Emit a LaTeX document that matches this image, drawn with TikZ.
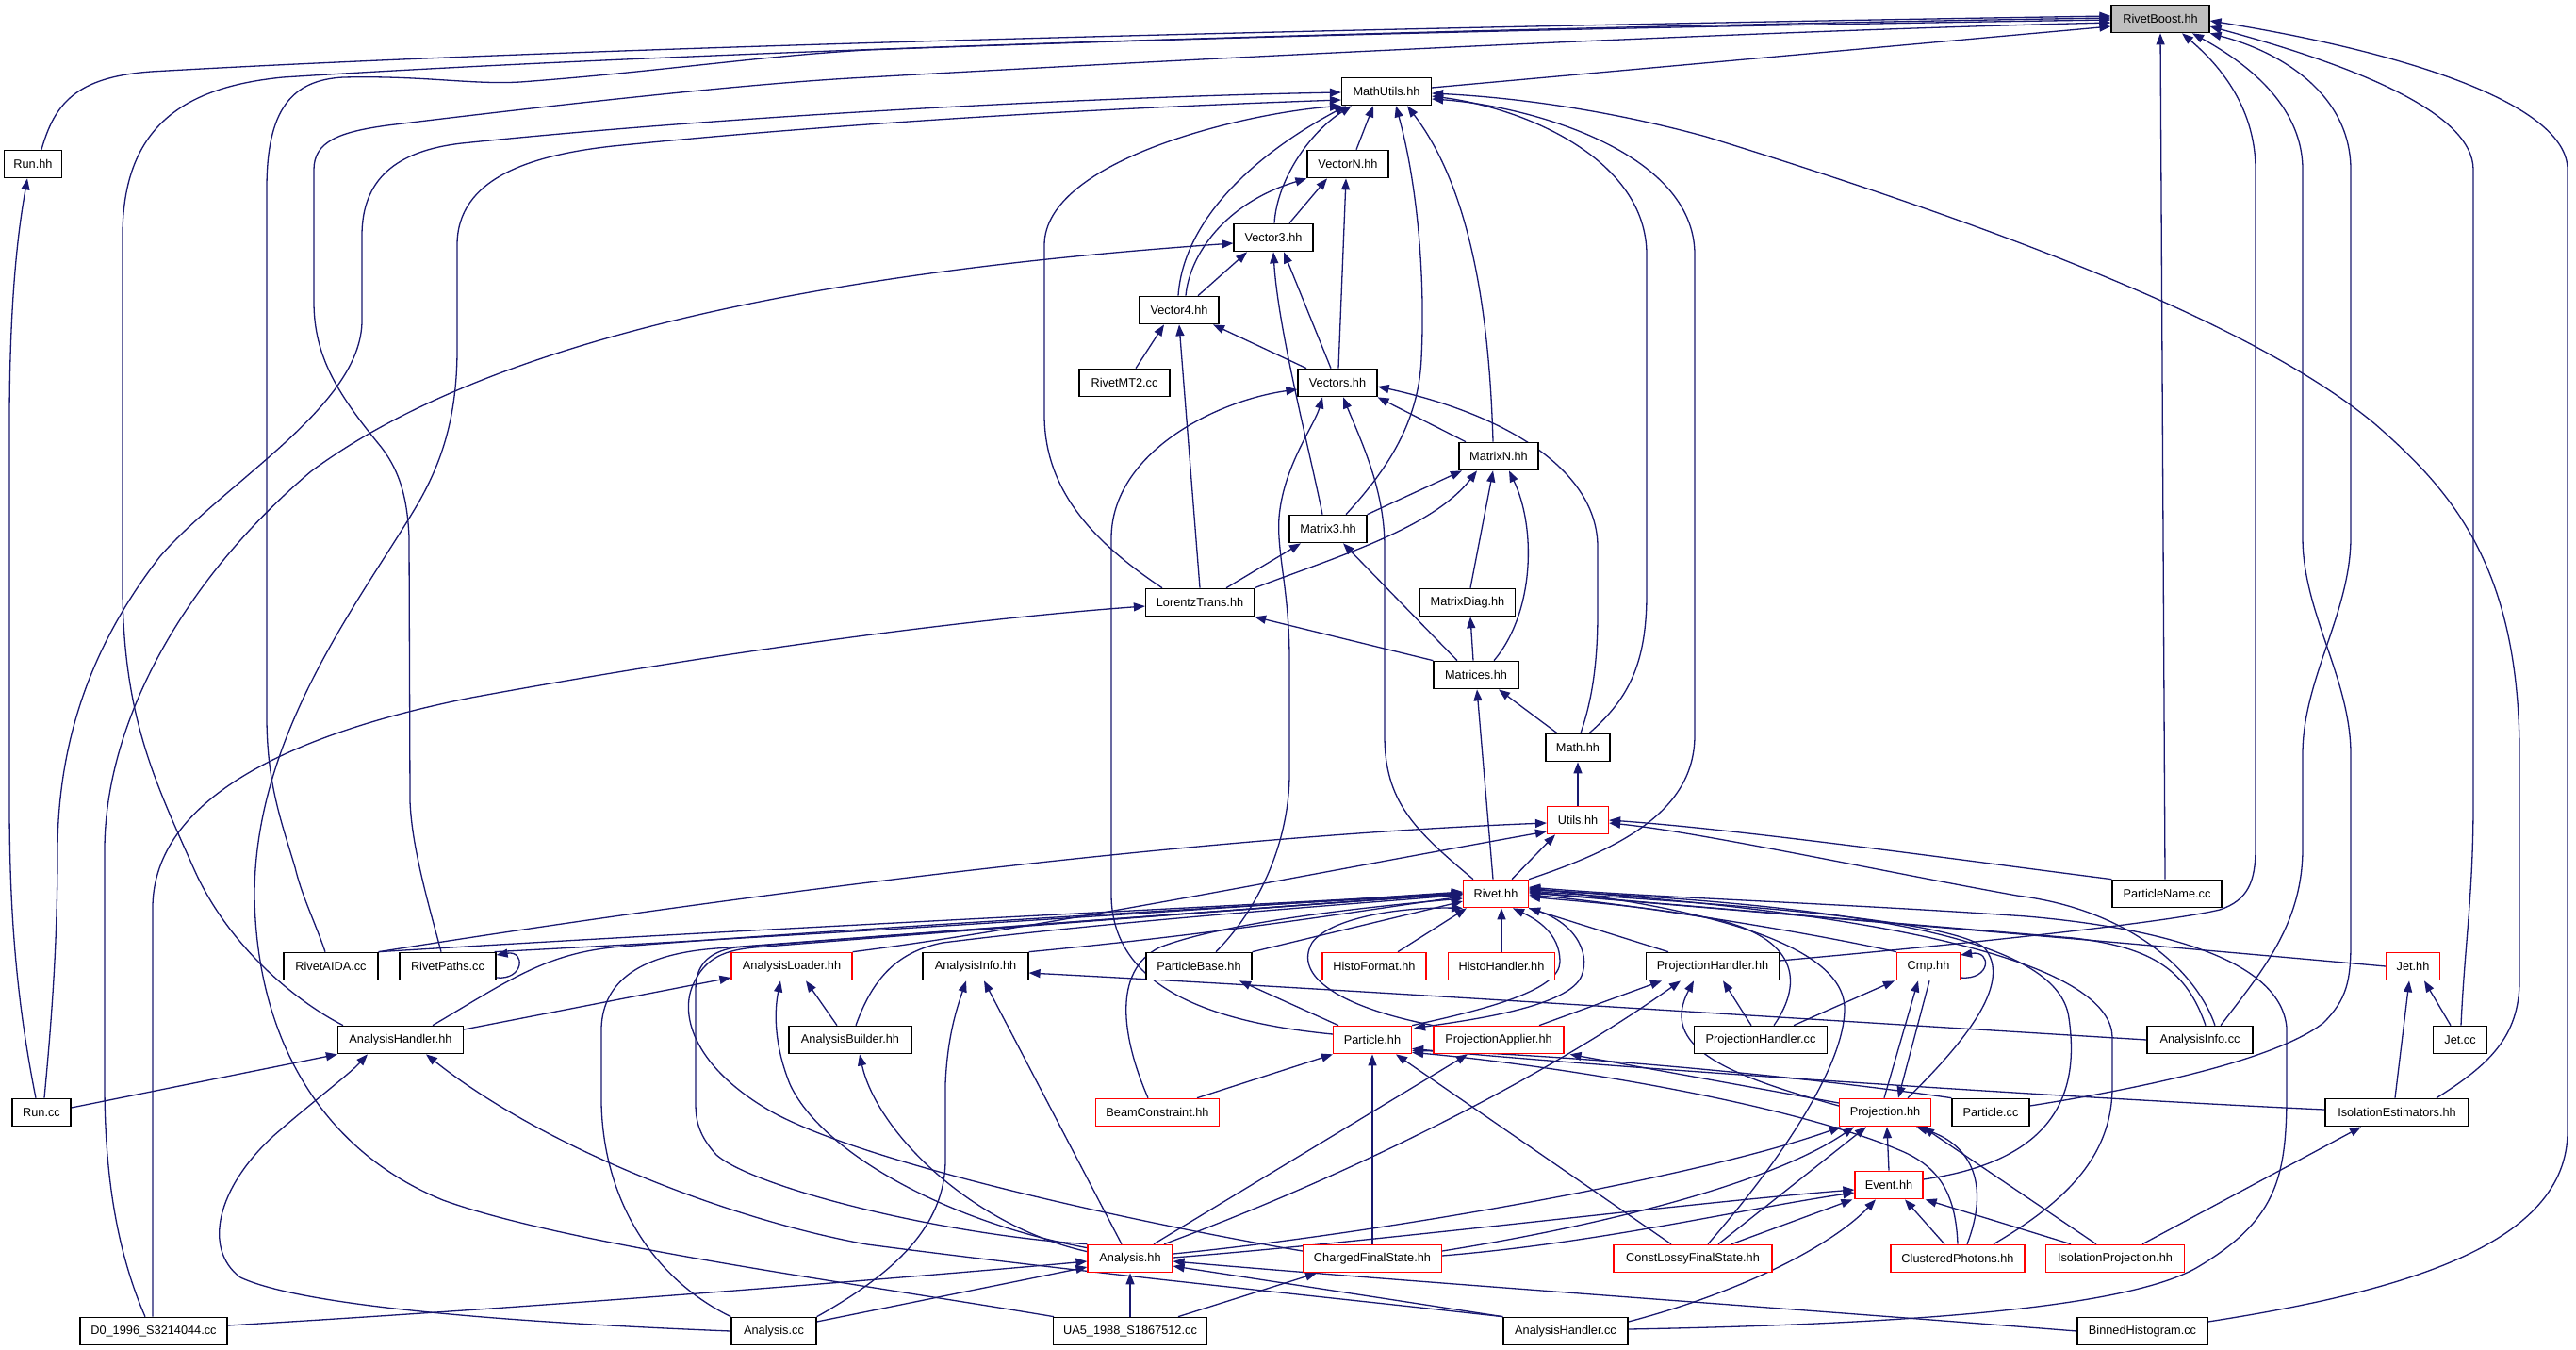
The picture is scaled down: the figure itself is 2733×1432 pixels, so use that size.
\documentclass[tikz,border=0pt]{standalone}
\usepackage{fontspec}
\setmainfont{Liberation Sans}
\usetikzlibrary{arrows.meta}
\definecolor{edgec}{RGB}{25,25,112}
\definecolor{rbgray}{RGB}{191,191,191}
\definecolor{nred}{RGB}{255,0,0}
\pgfdeclarelayer{edgelayer}
\pgfsetlayers{edgelayer,main}
\newcommand{\nfnt}{\fontsize{12.75pt}{15pt}\selectfont}
\begin{document}
\begin{tikzpicture}[x=1pt,y=-1pt,
  box/.style={draw=black, line width=1.2pt, fill=white, minimum height=29.5pt, inner sep=0pt, font=\nfnt, text=black},
  rbox/.style={box, draw=nred},
  e/.style={draw=edgec, line width=1.3pt, -{Triangle[length=12pt,width=9pt]}}]
\useasboundingbox (0,0) rectangle (2733,1432);
% ---------------- nodes ----------------
\node[box,fill=rbgray,minimum width=104pt] (rb) at (2292,20) {RivetBoost.hh};
\node[box,minimum width=95pt] (mu) at (1471,97) {MathUtils.hh};
\node[box,minimum width=61pt] (runhh) at (35,174) {Run.hh};
\node[box,minimum width=86pt] (vn) at (1430,174) {VectorN.hh};
\node[box,minimum width=84pt] (v3) at (1351,252) {Vector3.hh};
\node[box,minimum width=84pt] (v4) at (1251,329) {Vector4.hh};
\node[box,minimum width=96pt] (mt2) at (1193,406) {RivetMT2.cc};
\node[box,minimum width=84pt] (vs) at (1419,406) {Vectors.hh};
\node[box,minimum width=84pt] (mn) at (1590,484) {MatrixN.hh};
\node[box,minimum width=82pt] (m3) at (1409,561) {Matrix3.hh};
\node[box,minimum width=115pt] (lt) at (1273,639) {LorentzTrans.hh};
\node[box,minimum width=101pt] (md) at (1557,639) {MatrixDiag.hh};
\node[box,minimum width=90pt] (mx) at (1566,716) {Matrices.hh};
\node[box,minimum width=68pt] (math) at (1674,793) {Math.hh};
\node[rbox,minimum width=65pt] (utils) at (1674,870) {Utils.hh};
\node[rbox,minimum width=69pt] (rivet) at (1587,948) {Rivet.hh};
\node[box,minimum width=116pt] (pn) at (2299,948) {ParticleName.cc};
\node[box,minimum width=100pt] (aida) at (351,1025) {RivetAIDA.cc};
\node[box,minimum width=102pt] (paths) at (475,1025) {RivetPaths.cc};
\node[rbox,minimum width=128pt] (al) at (840,1025) {AnalysisLoader.hh};
\node[box,minimum width=112pt] (aih) at (1035,1025) {AnalysisInfo.hh};
\node[box,minimum width=112pt] (pb) at (1272,1025) {ParticleBase.hh};
\node[rbox,minimum width=110pt] (hf) at (1458,1025) {HistoFormat.hh};
\node[rbox,minimum width=113pt] (hh) at (1593,1025) {HistoHandler.hh};
\node[box,minimum width=141pt] (ph) at (1817,1025) {ProjectionHandler.hh};
\node[rbox,minimum width=67pt] (cmp) at (2046,1025) {Cmp.hh};
\node[rbox,minimum width=57pt] (jet) at (2560,1025) {Jet.hh};
\node[box,minimum width=133pt] (ah) at (425,1103) {AnalysisHandler.hh};
\node[box,minimum width=130pt] (ab) at (902,1103) {AnalysisBuilder.hh};
\node[rbox,minimum width=83pt] (particle) at (1456,1103) {Particle.hh};
\node[rbox,minimum width=138pt] (pa) at (1590,1103) {ProjectionApplier.hh};
\node[box,minimum width=141pt] (phcc) at (1868,1103) {ProjectionHandler.cc};
\node[box,minimum width=112pt] (aicc) at (2334,1103) {AnalysisInfo.cc};
\node[box,minimum width=57pt] (jetcc) at (2610,1103) {Jet.cc};
\node[box,minimum width=62pt] (runcc) at (44,1180) {Run.cc};
\node[rbox,minimum width=131pt] (bc) at (1228,1180) {BeamConstraint.hh};
\node[rbox,minimum width=97pt] (proj) at (2000,1180) {Projection.hh};
\node[box,minimum width=82pt] (pcc) at (2112,1180) {Particle.cc};
\node[box,minimum width=152pt] (ie) at (2543,1180) {IsolationEstimators.hh};
\node[rbox,minimum width=72pt] (event) at (2004,1257) {Event.hh};
\node[rbox,minimum width=90pt] (ahh) at (1199,1335) {Analysis.hh};
\node[rbox,minimum width=147pt] (cfs) at (1456,1335) {ChargedFinalState.hh};
\node[rbox,minimum width=168pt] (cl) at (1796,1335) {ConstLossyFinalState.hh};
\node[rbox,minimum width=142pt] (cp) at (2077,1335) {ClusteredPhotons.hh};
\node[rbox,minimum width=147pt] (ip) at (2244,1335) {IsolationProjection.hh};
\node[box,minimum width=156pt] (d0) at (163,1412) {D0\_1996\_S3214044.cc};
\node[box,minimum width=90pt] (acc) at (821,1412) {Analysis.cc};
\node[box,minimum width=163pt] (ua5) at (1199,1412) {UA5\_1988\_S1867512.cc};
\node[box,minimum width=132pt] (ahcc) at (1661,1412) {AnalysisHandler.cc};
\node[box,minimum width=138pt] (bh) at (2273,1412) {BinnedHistogram.cc};
% ---------------- edges ----------------
\begin{pgfonlayer}{edgelayer}
\fill[white] (0,0) rectangle (2733,1432);
% into RivetBoost.hh
\draw[e] ([xshift=9pt]runhh.north) .. controls (58,110) and (80,82) .. (160,76) .. controls (700,45) and (1700,25) .. ([yshift=3pt]rb.west);
\draw[e] ([xshift=-61pt]ah.north) .. controls (310,1060) and (240,1000) .. (205,920) .. controls (165,830) and (130,760) .. (130,620) -- (130,250) .. controls (130,130) and (200,92) .. (300,82) .. controls (800,50) and (1700,27) .. ([yshift=1pt]rb.west);
\draw[e] ([xshift=-6pt]aida.north) .. controls (335,980) and (320,950) .. (313,920) .. controls (298,870) and (283,830) .. (283,760) -- (283,200) .. controls (283,115) and (310,85) .. (364,82) .. controls (450,80) and (500,90) .. (552,87) .. controls (700,76) and (800,60) .. (920,53) .. controls (1400,35) and (1900,26) .. ([yshift=-1pt]rb.west);
\draw[e] ([xshift=-7pt]paths.north) .. controls (455,960) and (437,900) .. (435,850) -- (434,570) .. controls (432,520) and (420,495) .. (405,475) .. controls (360,420) and (333,380) .. (333,320) -- (333,180) .. controls (333,150) and (360,140) .. (411,133) .. controls (600,110) and (800,88) .. (920,82) .. controls (1400,55) and (1900,32) .. ([yshift=-4pt]rb.west);
\draw[e] ([yshift=4pt]mu.east) -- ([yshift=-8pt]rb.west);
\draw[e] ([xshift=-2pt]pn.north) -- (rb.south);
\draw[e] ([yshift=6pt]ph.east) .. controls (2100,1000) and (2300,978) .. (2355,965) .. controls (2385,955) and (2393,935) .. (2393,900) -- (2393,180) .. controls (2393,110) and (2350,65) .. ([xshift=23pt]rb.south);
\draw[e] ([yshift=7pt]pcc.east) .. controls (2300,1150) and (2420,1120) .. (2465,1085) .. controls (2490,1060) and (2494,1040) .. (2494,1000) -- (2494,800) .. controls (2494,720) and (2443,650) .. (2443,570) -- (2443,180) .. controls (2443,110) and (2380,65) .. ([xshift=34pt]rb.south);
\draw[e] ([xshift=22pt]aicc.north) .. controls (2400,1030) and (2443,980) .. (2443,900) -- (2443,800) .. controls (2443,720) and (2494,650) .. (2494,570) -- (2494,180) .. controls (2494,100) and (2420,55) .. (rb.south east);
\draw[e] ([xshift=1pt]jetcc.north) .. controls (2615,1000) and (2624,950) .. (2624,850) -- (2624,180) .. controls (2624,120) and (2500,70) .. ([yshift=-8pt]rb.east);
\draw[e] ([yshift=10pt]bh.east) .. controls (2550,1370) and (2724,1320) .. (2724,1200) -- (2724,180) .. controls (2724,110) and (2550,55) .. ([yshift=-2pt]rb.east);
% into MathUtils.hh
\draw[e] ([xshift=3pt]runcc.north) .. controls (55,1080) and (61,1000) .. (61,900) .. controls (62,780) and (100,680) .. (170,590) .. controls (240,510) and (384,430) .. (384,340) -- (384,250) .. controls (384,190) and (420,160) .. (490,152) .. controls (800,120) and (1200,102) .. ([yshift=-1pt]mu.west);
\draw[e] ([xshift=-6pt]runcc.north) .. controls (15,1050) and (10,950) .. (10,850) -- (10,450) .. controls (10,300) and (22,230) .. ([xshift=-6pt]runhh.south);
\draw[e] ([xshift=-81pt]ua5.north) .. controls (900,1360) and (600,1320) .. (470,1273) .. controls (340,1220) and (272,1100) .. (270,950) .. controls (270,780) and (380,640) .. (440,540) .. controls (470,490) and (485,440) .. (485,370) -- (485,260) .. controls (485,190) and (560,165) .. (650,155) .. controls (950,125) and (1250,112) .. ([yshift=-9pt]mu.west);
\draw[e] ([xshift=-40pt]lt.north) .. controls (1160,575) and (1108,520) .. (1108,440) -- (1108,260) .. controls (1108,170) and (1320,120) .. (mu.south west);
\draw[e] ([xshift=-1pt]v4.north) .. controls (1255,240) and (1320,170) .. ([xshift=5pt]mu.south west);
\draw[e] ([xshift=1pt]v3.north) .. controls (1355,190) and (1390,140) .. ([xshift=11pt]mu.south west);
\draw[e] ([xshift=9pt]vn.north) -- ([xshift=-14pt]mu.south);
\draw[e] ([xshift=19pt]m3.north) .. controls (1470,500) and (1505,450) .. (1508,380) .. controls (1512,300) and (1505,200) .. ([xshift=10pt]mu.south);
\draw[e] ([xshift=-6pt]mn.north) .. controls (1580,330) and (1560,200) .. ([xshift=22pt]mu.south);
\draw[e] ([xshift=12pt]math.north) .. controls (1730,740) and (1747,700) .. (1747,630) -- (1747,270) .. controls (1747,170) and (1620,115) .. ([yshift=-5pt]mu.east);
\draw[e] (rivet.north east) .. controls (1720,900) and (1798,860) .. (1798,780) -- (1798,270) .. controls (1798,160) and (1620,112) .. ([yshift=-8pt]mu.east);
\draw[e] ([xshift=42pt]ie.north) .. controls (2640,1130) and (2673,1100) .. (2673,1040) -- (2673,800) .. controls (2673,600) and (2600,520) .. (2520,450) .. controls (2400,350) and (2150,250) .. (1810,145) .. controls (1700,115) and (1600,103) .. ([yshift=-2pt]mu.east);
% vectors
\draw[e] ([xshift=17pt]v3.north) -- ([xshift=-22pt]vn.south);
\draw[e] ([xshift=7pt]v4.north) .. controls (1262,270) and (1300,215) .. (vn.south west);
\draw[e] ([xshift=20pt]v4.north) -- ([xshift=-28pt]v3.south);
\draw[e] ([xshift=1pt]vs.north) -- ([xshift=-2pt]vn.south);
\draw[e] ([xshift=-7pt]vs.north) -- ([xshift=11pt]v3.south);
\draw[e] ([xshift=-33pt]vs.north) -- ([xshift=36pt]v4.south);
\draw[e] ([xshift=12pt]mt2.north) -- ([xshift=-16pt]v4.south);
\draw[e] (lt.north) -- (v4.south);
\draw[e] ([xshift=28pt]lt.north) -- ([xshift=-29pt]m3.south);
\draw[e] (lt.north east) .. controls (1420,590) and (1520,560) .. ([xshift=-23pt]mn.south);
\draw[e] (m3.north east) -- ([xshift=-39pt]mn.south);
\draw[e] ([xshift=-6pt]m3.north) .. controls (1390,480) and (1356,350) .. (v3.south);
\draw[e] ([yshift=6pt]particle.west) .. controls (1290,1085) and (1180,1050) .. (1179,950) -- (1179,570) .. controls (1180,480) and (1290,425) .. ([yshift=-7pt]vs.west);
\draw[e] ([xshift=18pt]pb.north) .. controls (1330,970) and (1368,900) .. (1368,820) -- (1368,700) .. controls (1368,620) and (1352,580) .. (1358,540) .. controls (1365,490) and (1395,450) .. ([xshift=-16pt]vs.south);
\draw[e] ([xshift=-24pt]rivet.north) .. controls (1500,880) and (1469,850) .. (1469,780) -- (1469,580) .. controls (1469,520) and (1445,470) .. ([xshift=6pt]vs.south);
\draw[e] ([xshift=3pt]math.north) .. controls (1690,740) and (1695,700) .. (1695,650) -- (1695,580) .. controls (1695,500) and (1600,440) .. ([yshift=-4pt]vs.east);
\draw[e] ([xshift=-35pt]mn.north) -- (vs.south east);
\draw[e] ([xshift=3pt]md.north) -- ([xshift=-6pt]mn.south);
\draw[e] ([xshift=19pt]mx.north) .. controls (1628,650) and (1630,560) .. ([xshift=11pt]mn.south);
\draw[e] ([xshift=-3pt]mx.north) -- ([xshift=3pt]md.south);
\draw[e] ([xshift=-20pt]mx.north) -- ([xshift=16pt]m3.south);
\draw[e] (mx.north west) -- (lt.south east);
\draw[e] ([xshift=-22pt]math.north) -- ([xshift=24pt]mx.south);
\draw[e] (utils.north) -- (math.south);
\draw[e] ([xshift=-3pt]rivet.north) -- ([xshift=1pt]mx.south);
\draw[e] ([xshift=17pt]rivet.north) -- ([xshift=-24pt]utils.south);
\draw[e] ([xshift=-1pt]d0.north) -- (162,960) .. controls (165,850) and (300,780) .. (500,740) .. controls (800,685) and (1050,655) .. ([yshift=-4pt]lt.west);
\draw[e] ([xshift=-9pt]d0.north) .. controls (125,1330) and (111,1250) .. (111,1150) -- (111,900) .. controls (112,760) and (200,610) .. (330,500) .. controls (560,330) and (1000,280) .. ([yshift=-6pt]v3.west);
% into Utils.hh
\draw[e] (aida.north east) .. controls (650,970) and (1200,890) .. ([yshift=-3pt]utils.west);
\draw[e] (al.north east) .. controls (1100,985) and (1400,925) .. ([yshift=-12pt]utils.west);
\draw[e] (pn.north west) .. controls (2100,915) and (1850,880) .. (utils.east);
\draw[e] ([xshift=16pt]aicc.north) .. controls (2330,1030) and (2260,965) .. (2140,950) .. controls (2000,925) and (1800,882) .. ([yshift=-3pt]utils.east);
% into Rivet.hh
\draw[e] (aida.north east) .. controls (800,985) and (1300,962) .. ([yshift=1pt]rivet.west);
\draw[e] ([xshift=-2pt]paths.north east) .. controls (900,990) and (1300,963) .. ([yshift=2pt]rivet.west);
\draw[e] ([xshift=34pt]ah.north) .. controls (540,1040) and (580,1010) .. (660,1004) .. controls (900,985) and (1300,962) .. (rivet.west);
\draw[e] (aih.north east) .. controls (1300,990) and (1450,965) .. ([yshift=-3pt]rivet.west);
\draw[e] ([xshift=6pt]ab.north) .. controls (925,1040) and (950,1010) .. (1000,1000) .. controls (1200,975) and (1450,958) .. ([yshift=-1pt]rivet.west);
\draw[e] (ahh.north west) .. controls (1000,1310) and (800,1260) .. (760,1225) .. controls (742,1205) and (738,1190) .. (738,1170) -- (738,1050) .. controls (738,1025) and (750,1010) .. (780,1005) .. controls (1000,988) and (1350,962) .. (rivet.west);
\draw[e] ([yshift=8pt]cfs.west) .. controls (1250,1305) and (930,1240) .. (820,1180) .. controls (740,1135) and (720,1080) .. (735,1045) .. controls (748,1015) and (770,1008) .. (800,1005) .. controls (1050,985) and (1350,962) .. (rivet.west);
\draw[e] (acc.north west) .. controls (690,1355) and (640,1270) .. (638,1170) -- (638,1090) .. controls (640,1040) and (680,1012) .. (760,1006) .. controls (1000,988) and (1350,962) .. (rivet.west);
\draw[e] ([xshift=-10pt]bc.north) .. controls (1190,1100) and (1180,1030) .. (1230,1005) .. controls (1300,978) and (1450,962) .. ([yshift=-5pt]rivet.west);
\draw[e] (pb.north east) -- ([yshift=-8pt]rivet.west);
\draw[e] (pa.north west) .. controls (1420,1068) and (1372,1035) .. (1392,1000) .. controls (1410,975) and (1480,962) .. (rivet.south west);
\draw[e] ([xshift=25pt]hf.north) -- ([xshift=4pt]rivet.south west);
\draw[e] (hh.north) -- ([xshift=6pt]rivet.south);
\draw[e] (particle.north east) .. controls (1580,1070) and (1655,1050) .. (1655,1020) .. controls (1655,990) and (1630,975) .. ([xshift=18pt]rivet.south);
\draw[e] (rivet.south east) .. controls (1670,975) and (1688,1010) .. (1678,1035) .. controls (1665,1068) and (1560,1082) .. ([xshift=2pt,yshift=-3pt]particle.north east);
\draw[e] ([xshift=-47pt]ph.north) -- (rivet.south east);
\draw[e] ([xshift=14pt]phcc.north) .. controls (1915,1040) and (1905,995) .. (1820,975) .. controls (1740,960) and (1660,955) .. ([yshift=-3pt]rivet.east);
\draw[e] (cmp.north west) .. controls (1900,985) and (1720,958) .. ([yshift=-1pt]rivet.east);
\draw[e] (jet.west) .. controls (2200,995) and (1800,962) .. ([yshift=1pt]rivet.east);
\draw[e] ([xshift=6pt]aicc.north) .. controls (2320,1030) and (2285,1005) .. (2200,995) .. controls (2000,978) and (1750,958) .. ([yshift=2pt]rivet.east);
\draw[e] ([xshift=24pt]proj.north) .. controls (2090,1100) and (2135,1040) .. (2105,1005) .. controls (2060,970) and (1750,955) .. ([yshift=3pt]rivet.east);
\draw[e] ([yshift=6pt]event.east) .. controls (2190,1230) and (2205,1150) .. (2195,1080) .. controls (2185,1000) and (2000,962) .. ([yshift=4pt]rivet.east);
\draw[e] ([xshift=38pt]cp.north) .. controls (2200,1270) and (2242,1220) .. (2241,1150) -- (2241,1100) .. controls (2240,1040) and (2100,975) .. ([yshift=5pt]rivet.east);
\draw[e] ([xshift=16pt]cl.north) .. controls (1890,1230) and (1957,1130) .. (1957,1070) .. controls (1957,1000) and (1800,962) .. ([yshift=6pt]rivet.east);
\draw[e] ([yshift=2pt]ahcc.east) .. controls (2000,1405) and (2250,1390) .. (2330,1345) .. controls (2415,1295) and (2426,1250) .. (2426,1160) -- (2426,1090) .. controls (2420,1020) and (2300,985) .. (2150,972) .. controls (1950,958) and (1750,952) .. ([yshift=7pt]rivet.east);
% projection handler / applier / cmp
\draw[e] ([xshift=-10pt]phcc.north) -- ([xshift=11pt]ph.south);
\draw[e] ([xshift=43pt]pa.north) -- ([xshift=-54pt]ph.south);
\draw[e] ([xshift=36pt]ahh.north) .. controls (1450,1240) and (1650,1135) .. ([xshift=-34pt]ph.south);
\draw[e] ([xshift=25pt]ahh.north) -- ([xshift=-33pt]pa.south);
\draw[e] ([yshift=7pt]proj.west) .. controls (1830,1140) and (1760,1110) .. ([xshift=-20pt]ph.south);
\draw[e] ([yshift=10pt]proj.west) -- ([xshift=6pt]pa.south east);
\draw[e] ([xshift=35pt]phcc.north) -- ([xshift=-2pt]cmp.south west);
\draw[e] ([xshift=-1pt]proj.north) -- ([xshift=-11pt]cmp.south);
\draw[e] ([xshift=1pt]cmp.south) -- ([xshift=14pt]proj.north);
\draw[e] ([yshift=-12pt]cmp.east) .. controls (2112,1040) and (2114,1008) .. ([yshift=12pt]cmp.east);
\draw[e] ([yshift=-12pt]paths.east) .. controls (556,1040) and (558,1008) .. ([yshift=12pt]paths.east);
% into Particle.hh
\draw[e] ([xshift=42pt]bc.north) -- (particle.south west);
\draw[e] (cfs.north) -- (particle.south);
\draw[e] ([xshift=-23pt]cl.north) -- ([xshift=25pt]particle.south);
\draw[e] (pcc.north west) .. controls (1900,1140) and (1650,1118) .. ([yshift=4pt]particle.south east);
\draw[e] ([yshift=3pt]ie.west) .. controls (2200,1165) and (1700,1132) .. ([yshift=6pt]particle.south east);
\draw[e] (cp.north) .. controls (2075,1270) and (2060,1240) .. (2020,1222) .. controls (1900,1170) and (1650,1130) .. ([yshift=2pt]particle.south east);
\draw[e] ([xshift=-36pt]particle.north) -- ([xshift=43pt]pb.south);
% into Projection.hh / Event.hh
\draw[e] ([yshift=5pt]ahh.east) .. controls (1450,1310) and (1800,1250) .. ([xshift=2pt]proj.south west);
\draw[e] ([yshift=1pt]ahh.east) .. controls (1450,1318) and (1800,1275) .. ([yshift=-5pt]event.west);
\draw[e] ([yshift=8pt]cfs.east) .. controls (1700,1300) and (1880,1255) .. ([xshift=-33pt]proj.south);
\draw[e] ([yshift=3pt]cfs.east) .. controls (1700,1318) and (1850,1282) .. ([yshift=-8pt]event.west);
\draw[e] ([xshift=27pt]cl.north) -- ([xshift=-20pt]proj.south);
\draw[e] ([xshift=41pt]cl.north) -- ([xshift=-2pt]event.south west);
\draw[e] (event.north) -- ([xshift=2pt]proj.south);
\draw[e] ([xshift=10pt]cp.north) .. controls (2110,1260) and (2095,1215) .. ([xshift=33pt]proj.south);
\draw[e] ([xshift=-14pt]cp.north) -- ([xshift=17pt]event.south);
\draw[e] ([xshift=-20pt]ip.north) -- ([xshift=40pt]proj.south);
\draw[e] ([xshift=-47pt]ip.north) -- ([xshift=2pt]event.south east);
\draw[e] ([xshift=29pt]ip.north) -- ([xshift=-38pt]ie.south);
\draw[e] ([yshift=10pt]ahcc.east) .. controls (1850,1370) and (1945,1320) .. ([xshift=-14pt]event.south);
% jet
\draw[e] ([xshift=-2pt]ie.north) -- ([xshift=-4pt]jet.south);
\draw[e] ([xshift=-10pt]jetcc.north) -- ([xshift=12pt]jet.south);
% into Analysis.hh
\draw[e] ([yshift=6pt]d0.east) .. controls (600,1385) and (1000,1352) .. ([yshift=-3pt]ahh.west);
\draw[e] ([yshift=10pt]acc.east) -- ([yshift=-9pt]ahh.west);
\draw[e] (ua5.north) -- (ahh.south);
\draw[e] ([xshift=51pt]ua5.north) -- ([xshift=-59pt]cfs.south);
\draw[e] (ahcc.north west) -- ([yshift=-8pt]ahh.east);
\draw[e] (bh.west) .. controls (1900,1388) and (1500,1360) .. ([yshift=-3pt]ahh.east);
% analysis handler / loader / builder / info
\draw[e] (ahcc.north west) .. controls (1400,1375) and (1150,1350) .. (920,1320) .. controls (780,1295) and (580,1220) .. ([xshift=27pt]ah.south);
\draw[e] (acc.west) .. controls (600,1405) and (330,1390) .. (255,1355) .. controls (215,1325) and (230,1260) .. (290,1205) .. controls (330,1170) and (370,1140) .. ([xshift=-35pt]ah.south);
\draw[e] ([yshift=5pt]runcc.east) -- (ah.south west);
\draw[e] ([yshift=11pt]ah.east) -- ([yshift=-12pt]al.west);
\draw[e] ([yshift=-4pt]ahh.north west) .. controls (1000,1295) and (870,1220) .. (838,1150) .. controls (820,1105) and (822,1070) .. ([xshift=-12pt]al.south);
\draw[e] ([xshift=-14pt]ab.north) -- ([xshift=15pt]al.south);
\draw[e] ([yshift=-8pt]ahh.north west) .. controls (1030,1300) and (930,1200) .. ([xshift=10pt]ab.south);
\draw[e] ([xshift=-9pt]ahh.north) -- ([xshift=9pt]aih.south);
\draw[e] (acc.north east) .. controls (950,1350) and (1003,1300) .. (1003,1230) -- (1003,1150) .. controls (1005,1100) and (1015,1070) .. ([xshift=-10pt]aih.south);
\draw[e] (aicc.west) .. controls (1900,1080) and (1400,1048) .. ([yshift=-7pt]aih.east);
\end{pgfonlayer}
\end{tikzpicture}
\end{document}
